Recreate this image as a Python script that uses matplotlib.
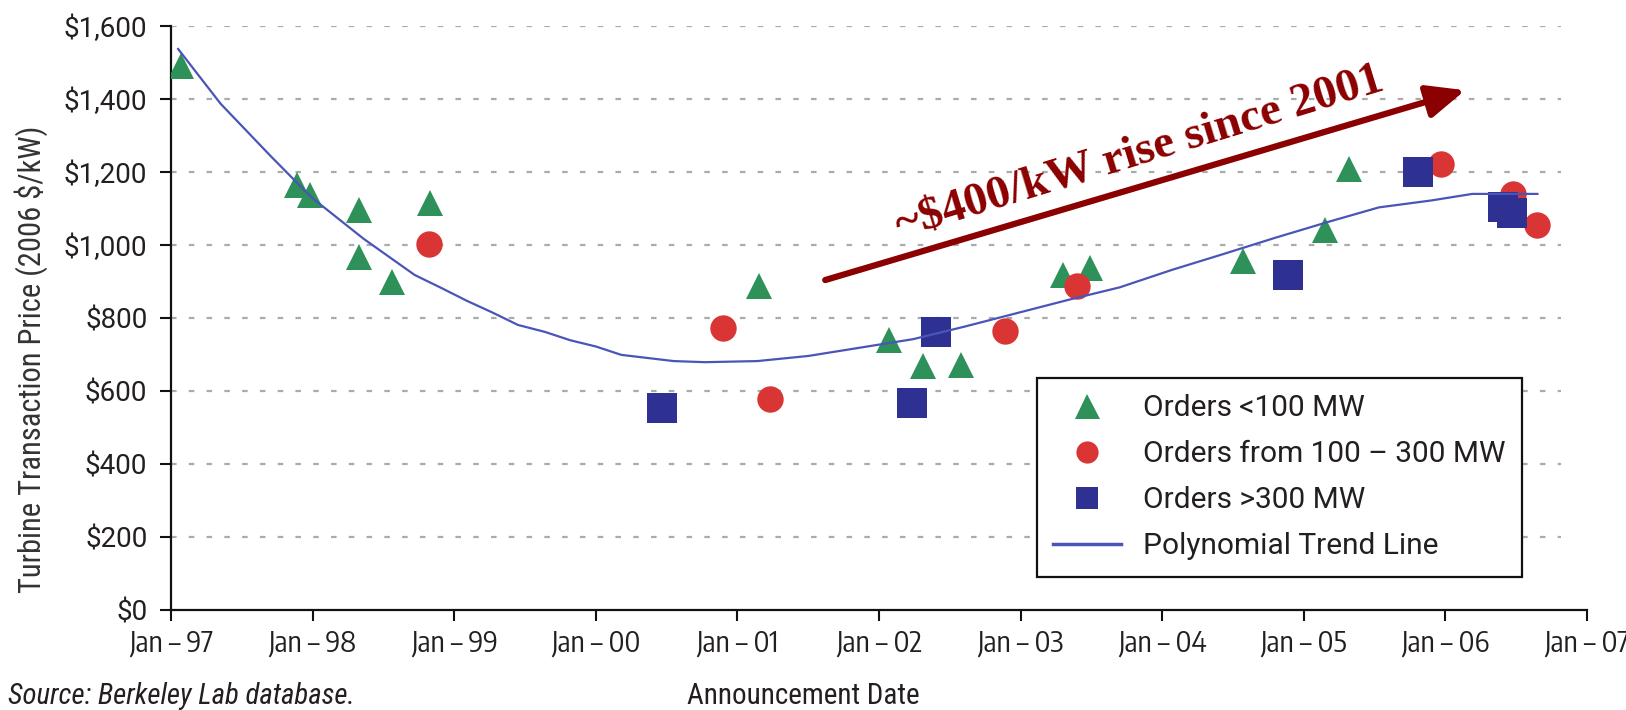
import numpy as np
import matplotlib
matplotlib.use("Agg")
import matplotlib.pyplot as plt

plt.rcParams['font.family'] = ['Roboto Condensed', 'DejaVu Sans']

# data (decimal year, 2006 $/kW)
small_x = [1997.07, 1997.89, 1997.98, 1998.33, 1998.33, 1998.56, 1998.83, 2001.15,
           2002.07, 2002.31, 2002.58, 2003.30, 2003.49, 2004.57, 2005.15, 2005.32]
small_y = [1490, 1165, 1137, 1097, 966, 898, 1114, 889,
           739, 668, 671, 918, 938, 955, 1040, 1208]

mid_x = [1998.82, 2000.90, 2001.23, 2002.89, 2003.40, 2005.97, 2006.48, 2006.65]
mid_y = [1003, 773, 577, 764, 889, 1222, 1140, 1054]

big_x = [2000.47, 2002.23, 2002.40, 2004.89, 2005.81, 2006.41, 2006.47]
big_y = [554, 568, 762, 918, 1199, 1103, 1088]

trend_x = [1997.05, 1997.35, 1997.70, 1997.99, 1998.36, 1998.72, 1998.90, 1999.09,
           1999.27, 1999.45, 1999.64, 1999.82, 2000.00, 2000.18, 2000.55, 2000.77,
           2001.14, 2001.50, 2001.87, 2002.24, 2002.60, 2002.97, 2003.34, 2003.70,
           2004.07, 2004.43, 2004.80, 2005.17, 2005.53, 2005.90, 2006.19, 2006.65]
trend_y = [1537, 1387, 1245, 1131, 1017, 918, 884, 847,
           815, 781, 762, 739, 722, 699, 682, 679,
           682, 696, 719, 742, 776, 813, 850, 884,
           932, 975, 1020, 1063, 1103, 1122, 1140, 1140]

years = list(range(1997, 2008))
year_labels = ["Jan \u2013 %02d" % (y % 100) for y in years]
yticks = list(range(0, 1601, 200))

green = "#2E9159"
red = "#D93535"
navy = "#2E3192"
trend_col = "#4A55B8"
txt = "#231F20"

fig = plt.figure(figsize=(16.26, 7.10), dpi=100)
ax = fig.add_axes([0.1052, 0.1408, 0.8708, 0.8226])

# dashed grid, stops a little short of the last tick
ax.hlines(yticks[1:], 1997, 2006.82, colors="#ABABAB", linestyles=(0, (2.5, 5.5)), lw=1.6, zorder=1)

ax.plot(small_x, small_y, "^", color=green, ms=19, mew=0, zorder=3, label="Orders <100 MW")
ax.plot(mid_x, mid_y, "o", color=red, ms=19, mew=0, zorder=4, label="Orders from 100 \u2013 300 MW")
ax.plot(big_x, big_y, "s", color=navy, ms=22, mew=0, zorder=5, label="Orders >300 MW")
ax.plot(trend_x, trend_y, "-", color=trend_col, lw=1.6, zorder=6, label="Polynomial Trend Line")

ax.set_xlim(1997, 2007)
ax.set_ylim(0, 1600)
ax.set_xticks(years)
ax.set_xticklabels(year_labels)
ax.set_yticks(yticks)
ax.set_yticklabels(["${:,}".format(v) for v in yticks])
ax.tick_params(axis="both", direction="out", length=8, width=1.5, colors="#111111",
               labelcolor=txt)
ax.tick_params(axis="y", pad=9)
ax.tick_params(axis="x", pad=5)
for t in ax.get_xticklabels():
    t.set_fontfamily(["Encode Sans Condensed", "Roboto Condensed"])
    t.set_fontsize(21)
for t in ax.get_yticklabels():
    t.set_fontfamily(["Roboto", "DejaVu Sans"])
    t.set_fontsize(20)

for s in ["top", "right"]:
    ax.spines[s].set_visible(False)
for s in ["left", "bottom"]:
    ax.spines[s].set_linewidth(1.6)
    ax.spines[s].set_color("#111111")

ax.set_ylabel("Turbine Transaction Price (2006 $/kW)", fontsize=22, color="#333333", va="center")
ax.yaxis.set_label_coords(-0.0985, 0.43)

fig.text(0.4938, 0.008, "Announcement Date", fontsize=21, color=txt, ha="center", va="baseline")
fig.text(0.005, 0.008, "Source: Berkeley Lab database.", fontsize=20.8, style="italic",
         color=txt, ha="left", va="baseline")

leg = ax.legend(loc="upper left", bbox_to_anchor=(1037 / 1626, 1 - 378 / 710),
                bbox_transform=fig.transFigure, borderaxespad=0, frameon=True,
                prop={"family": ["Roboto", "DejaVu Sans"], "size": 21.5},
                fancybox=False, borderpad=0.55, labelspacing=0.6, handlelength=2.25,
                handletextpad=0.75)
leg.get_frame().set_edgecolor("#111111")
leg.get_frame().set_linewidth(1.6)
leg.get_frame().set_alpha(1)
for t in leg.get_texts():
    t.set_color(txt)
for h, ms in zip(leg.legend_handles, [18, 16, 16]):
    h.set_markersize(ms)
leg.legend_handles[3].set_linewidth(2.5)

# arrow annotation
dark_red = "#8B0000"
ax.annotate("", xy=(2006.14, 1424), xytext=(2001.62, 904),
            arrowprops=dict(arrowstyle="-|>,head_length=2.3,head_width=1.0",
                            color=dark_red, lw=4.5, shrinkA=0, shrinkB=0), zorder=7)
ax.text(2003.84, 1250, "~$400/kW rise since 2001", fontsize=34, fontweight="bold",
        family=["Liberation Serif", "DejaVu Serif"], color=dark_red, rotation=17,
        rotation_mode="anchor", ha="center", va="center", zorder=7)

fig.savefig("out.png", dpi=100)
